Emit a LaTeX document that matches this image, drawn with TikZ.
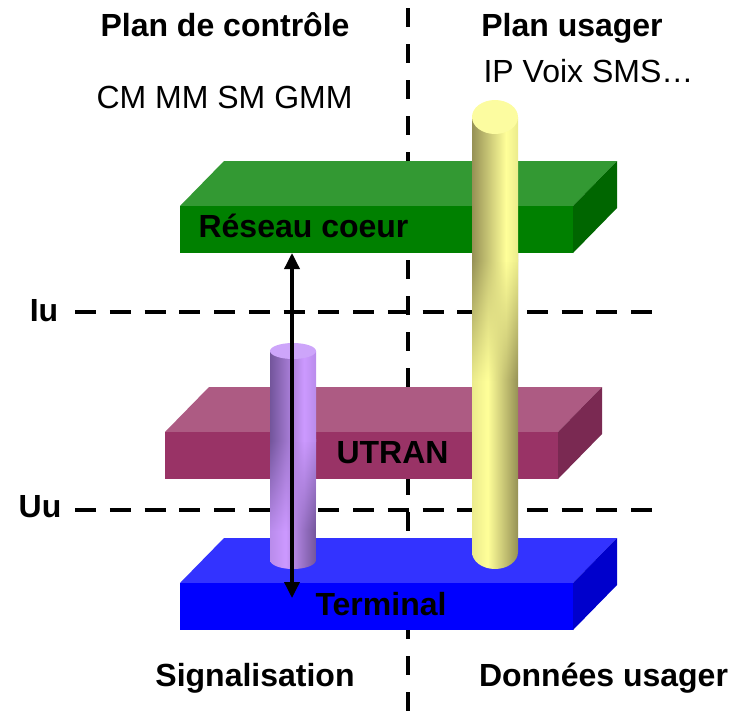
\documentclass[tikz,border=0pt]{standalone}
\usepackage{fontspec}
\setmainfont{Liberation Sans}
\usetikzlibrary{arrows.meta,fadings}

\definecolor{greenTop}{RGB}{51,153,51}
\definecolor{greenFront}{RGB}{0,128,0}
\definecolor{greenSide}{RGB}{0,102,0}
\definecolor{plumTop}{RGB}{173,91,131}
\definecolor{plumFront}{RGB}{153,51,102}
\definecolor{plumSide}{RGB}{122,41,82}
\definecolor{blueTop}{RGB}{51,51,255}
\definecolor{blueFront}{RGB}{0,0,255}
\definecolor{blueSide}{RGB}{0,0,204}
\definecolor{yelDark}{RGB}{150,145,85}
\definecolor{yelLight}{RGB}{255,255,153}
\definecolor{yelSoft}{RGB}{235,235,140}
\definecolor{yelTop}{RGB}{252,252,160}
\definecolor{lilDark}{RGB}{115,85,155}
\definecolor{lilLight}{RGB}{204,153,255}
\definecolor{lilSoft}{RGB}{185,140,235}
\definecolor{lilTop}{RGB}{205,165,250}

\pgfdeclarehorizontalshading{yelUp}{100bp}{color(0bp)=(yelDark); color(25bp)=(yelDark); color(62bp)=(yelLight); color(75bp)=(yelSoft); color(100bp)=(yelSoft)}
\pgfdeclarehorizontalshading{yelLow}{100bp}{color(0bp)=(yelSoft); color(25bp)=(yelSoft); color(42bp)=(yelLight); color(75bp)=(yelDark); color(100bp)=(yelDark)}
\pgfdeclarehorizontalshading{lilUp}{100bp}{color(0bp)=(lilDark); color(25bp)=(lilDark); color(62bp)=(lilLight); color(75bp)=(lilSoft); color(100bp)=(lilSoft)}
\pgfdeclarehorizontalshading{lilLow}{100bp}{color(0bp)=(lilSoft); color(25bp)=(lilSoft); color(42bp)=(lilLight); color(75bp)=(lilDark); color(100bp)=(lilDark)}

\begin{document}
\begin{tikzpicture}[x=1pt,y=1pt,
    plane/.style={line width=4pt,dash pattern=on 21pt off 13.75pt},
    split/.style={line width=4pt,dash pattern=on 19pt off 17pt},
    head/.style={font=\fontsize{32}{38}\selectfont\bfseries,anchor=base,inner sep=0pt},
    note/.style={font=\fontsize{32}{38}\selectfont,anchor=base,inner sep=0pt},
    sig/.style={line width=3.5pt,{Triangle[length=16pt,width=15pt]}-{Triangle[length=16pt,width=15pt]}}]
  \useasboundingbox (0,0) rectangle (733,-720);

  % plans
  \node[head] (ctrl) at (225,-36) {Plan de contr\^ole};
  \node[head] (user) at (572,-36) {Plan usager};
  \node[note] (ctrlProto) at (224.5,-108) {CM MM SM GMM};
  \node[note] (userProto) at (588.5,-82) {IP Voix SMS\ldots};
  \node[head] (signal) at (255,-686) {Signalisation};
  \node[head] (data) at (603.5,-686) {Donn\'ees usager};
  \coordinate (splitTop) at (408,-8);
  \coordinate (splitBot) at (408,-720);
  \draw[split] (splitTop) -- (splitBot);

  % interfaces
  \node[head] (iu) at (44,-321) {Iu};
  \node[head] (uu) at (40,-517) {Uu};
  \coordinate (iuStart) at (75,-312);
  \coordinate (iuEnd) at (652,-312);
  \coordinate (uuStart) at (75,-510);
  \coordinate (uuEnd) at (652,-510);
  \draw[plane] (iuStart) -- (iuEnd);
  \draw[plane] (uuStart) -- (uuEnd);

  % couches
  \foreach \px/\py/\col in {180/206/green, 165/432/plum, 180/583/blue} {
    \fill[\col Top] (\px,-\py) -- ++(44,45) -- ++(393,0) -- ++(-44,-45) -- cycle;
    \fill[\col Front] (\px,-\py) rectangle ++(393,-47);
    \fill[\col Side] (\px+393,-\py) -- ++(44,45) -- ++(0,-47) -- ++(-44,-45) -- cycle;
  }
  \node[head] (coeur) at (303.5,-237) {R\'eseau coeur};
  \node[head] (utran) at (392.5,-463) {UTRAN};
  \node[head] (terminal) at (381,-615) {Terminal};

  % colonne signalisation
  \shade[shading=lilLow] (270,-430) -- (270,-560) arc[start angle=180,end angle=360,x radius=23,y radius=9] -- (316,-430) -- cycle;
  \shade[shading=lilUp] (270,-351) rectangle (316,-441);
  \shade[shading=lilUp,path fading=south] (270,-440) rectangle (316,-530);
  \fill[lilTop] (293,-351) ellipse[x radius=23,y radius=8];

  % colonne donnees
  \shade[shading=yelLow] (472,-250) -- (472,-552) arc[start angle=180,end angle=360,x radius=23,y radius=17] -- (518,-250) -- cycle;
  \shade[shading=yelUp] (472,-117) rectangle (518,-261);
  \shade[shading=yelUp,path fading=south] (472,-260) rectangle (518,-380);
  \fill[yelTop] (495,-117) ellipse[x radius=23,y radius=17];

  \coordinate (sigTop) at (292,-253);
  \coordinate (sigBot) at (292,-598);
  \draw[sig] (sigTop) -- (sigBot);
\end{tikzpicture}
\end{document}
